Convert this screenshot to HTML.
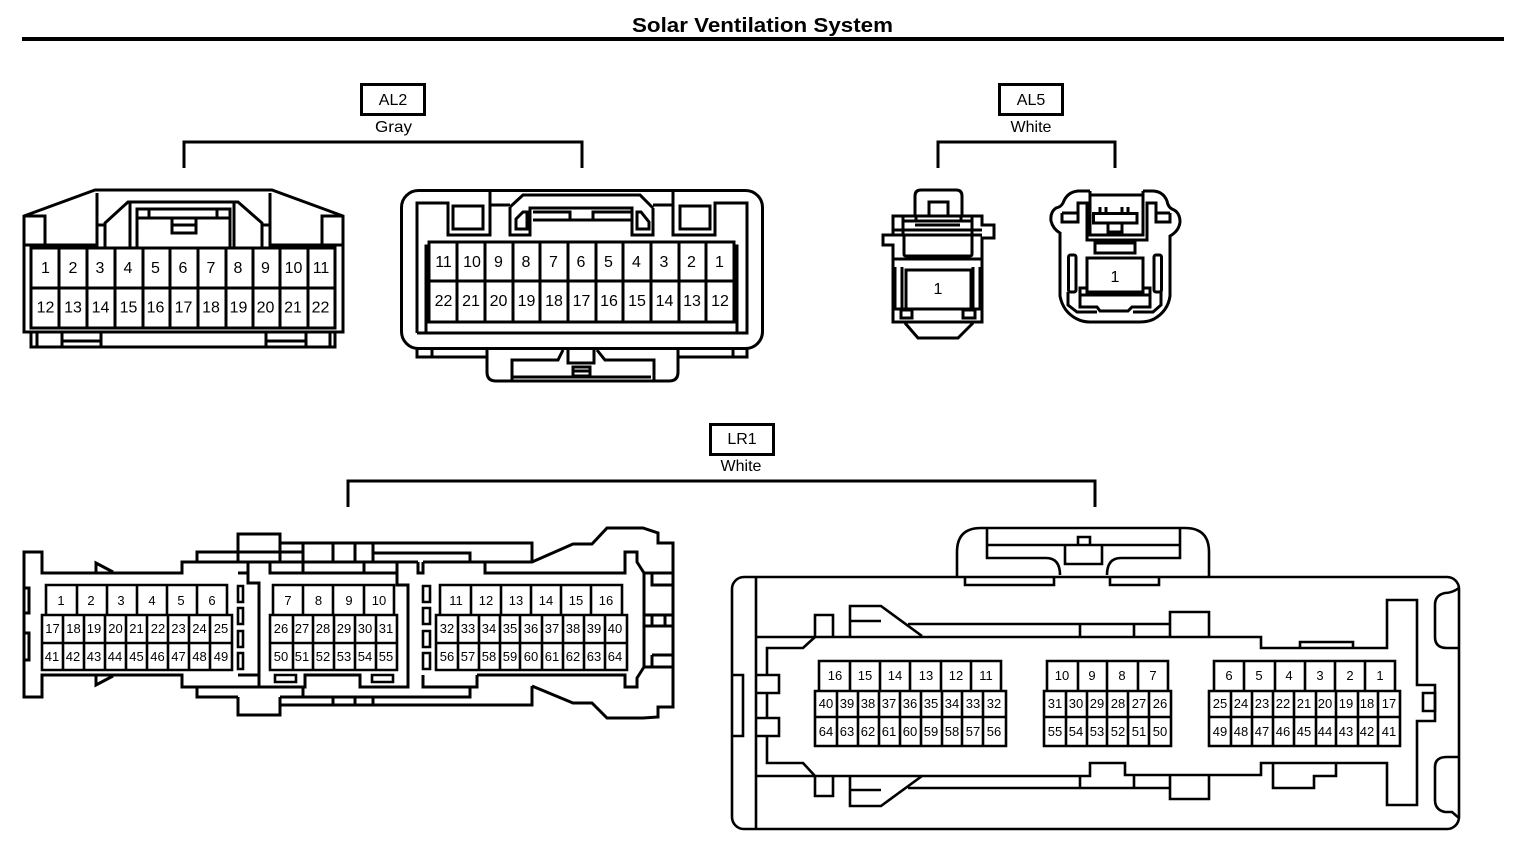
<!DOCTYPE html>
<html lang="en">
<head>
<meta charset="utf-8">
<title>Solar Ventilation System</title>
<style>
html,body{margin:0;padding:0;background:#fff;width:1536px;height:860px;overflow:hidden}
svg{display:block}
path,rect{fill:none;stroke:#000;stroke-width:3;stroke-linejoin:miter}
.t{stroke-width:2.6}
.f{fill:#000;stroke:none}
text{font-family:"Liberation Sans",Arial,sans-serif;fill:#000;text-anchor:middle}
.a text{font-size:16px}
.b text{font-size:13px}
.l{font-size:16px}
</style>
</head>
<body>
<svg width="1536" height="860" viewBox="0 0 1536 860" xmlns="http://www.w3.org/2000/svg">
<text x="762.5" y="32" font-size="20.5" font-weight="bold" textLength="261" lengthAdjust="spacingAndGlyphs">Solar Ventilation System</text>
<rect class="f" x="22" y="37" width="1482" height="4"/>

<!-- Labels and brackets -->
<rect x="361.500" y="84.500" width="63" height="30"/>
<text class="l" x="393" y="105">AL2</text>
<text class="l" x="393.500" y="132" textLength="37" lengthAdjust="spacingAndGlyphs">Gray</text>
<path d="M184 168V142H582V168"/>
<rect x="999.500" y="84.500" width="63" height="30"/>
<text class="l" x="1031" y="105">AL5</text>
<text class="l" x="1031" y="132">White</text>
<path d="M938 168V142H1115V168"/>
<rect x="710.500" y="424.500" width="63" height="30"/>
<text class="l" x="742" y="444">LR1</text>
<text class="l" x="741" y="471">White</text>
<path d="M348 507V481H1095V507"/>

<!-- AL2 left -->
<path d="M24 332V216L95 190H272L343 216V332Z"/>
<path d="M31 248H335V328H31ZM31 288H335M59 248V328M87 248V328M115 248V328M143 248V328M170 248V328M198 248V328M226 248V328M253 248V328M280 248V328M308 248V328"/>
<path d="M24 216H45V245M24 245H97M97 193V248M97 225H105M105 248V223L128 202H238L262 223V248M262 225H270M270 193V248M270 245H343M322 245V216H343"/>
<path d="M130 202V248M234 202V248M137 248V209H230V248M137 218H230M149 209V218M217 209V218M172 218V233H196V218M172 225H196"/>
<path d="M31 332V347H335V332M37 332V347M330 332V347M62 332V347M101 332V347M62 341H101M266 332V347M306 332V347M266 341H306"/>

<!-- AL2 right -->
<rect x="401.500" y="190.500" width="361" height="158" rx="17"/>
<path d="M417 333V203H448V235H490V190M490 205H510M510 207L523 195H640L653 208M510 207V235H530V208H632V235H653V208M653 205H673M673 190V235H715V203H747V333H417"/>
<rect x="453" y="206" width="30" height="23"/>
<rect x="680" y="206" width="30" height="23"/>
<path d="M516 229V219L523 212H527V229ZM637 229V212H641L649 222V229ZM533 212H570V220H533M632 212H593V220H632M570 220H593"/>
<path d="M429 242H734V322H429ZM429 281H734M457 242V322M485 242V322M513 242V322M540 242V322M568 242V322M596 242V322M623 242V322M651 242V322M679 242V322M706 242V322"/>
<path d="M426 333V246H429M737 333V246H734"/>
<path d="M417 348V357H487M432 348V357M733 348V357M747 348V357H678"/>
<path d="M487 348V372Q487 381 496 381H669Q678 381 678 372V348"/>
<path d="M512 380V360H558L563 350M654 380V360H605L597 350M512 377H651M568 350V363H594V350M573 367H590V376H573ZM573 371H590"/>

<g class="a">
<text x="45.500" y="273">1</text><text x="73" y="273">2</text><text x="100" y="273">3</text><text x="128" y="273">4</text><text x="155.500" y="273">5</text><text x="183" y="273">6</text><text x="211" y="273">7</text><text x="238" y="273">8</text><text x="265.500" y="273">9</text><text x="293.500" y="273">10</text><text x="321" y="273">11</text>
<text x="45.500" y="312.500">12</text><text x="73" y="312.500">13</text><text x="100.500" y="312.500">14</text><text x="128.500" y="312.500">15</text><text x="155.500" y="312.500">16</text><text x="183.500" y="312.500">17</text><text x="211" y="312.500">18</text><text x="238.500" y="312.500">19</text><text x="265.500" y="312.500">20</text><text x="293" y="312.500">21</text><text x="320.500" y="312.500">22</text>
<text x="443.500" y="267">11</text><text x="472" y="267">10</text><text x="498.500" y="267">9</text><text x="526" y="267">8</text><text x="553.500" y="267">7</text><text x="581" y="267">6</text><text x="608.500" y="267">5</text><text x="636.500" y="267">4</text><text x="664" y="267">3</text><text x="691.500" y="267">2</text><text x="719.500" y="267">1</text>
<text x="443.500" y="306">22</text><text x="471" y="306">21</text><text x="498.500" y="306">20</text><text x="526.500" y="306">19</text><text x="554" y="306">18</text><text x="581.500" y="306">17</text><text x="609" y="306">16</text><text x="637" y="306">15</text><text x="664.500" y="306">14</text><text x="692" y="306">13</text><text x="720" y="306">12</text>
<text x="938" y="294">1</text>
<text x="1115" y="282">1</text>
</g>

<!-- AL5 left -->
<path d="M915 216V196Q915 190 921 190H956Q962 190 962 196V216"/>
<path d="M929 216V202H948V216"/>
<path d="M893 235V216H982V225H994V238H982V322H893V245H883V235Z"/>
<path d="M903 216V235M972 216V235M916 216V222M961 216V222M903 221H972M915 225H960M893 230H982M893 235H982M904 235V254Q904 256 906 256H970Q972 256 972 254V235M893 259H982"/>
<path d="M895 267V309M902 267V309M973 267V309M980 267V309M906 309V270H971V309M893 309H982"/>
<path d="M901 310H912V318H901ZM963 310H975V318H963Z" stroke-width="2.500"/>
<path d="M905 323L918 338H958L973 323"/>

<!-- AL5 right -->
<path d="M1090 191H1078Q1067 192 1063 203Q1061 207 1056 208Q1050 212 1051 221Q1053 229 1060 233V296Q1063 312 1077 319Q1083 322 1090 322H1140Q1148 322 1154 319Q1168 311 1170 296V236Q1179 231 1180 222Q1180 212 1172 209Q1168 207 1167 201Q1163 191 1152 191H1143"/>
<path d="M1062 213V222H1078V203H1087V240H1147V203H1156V222H1170V213M1062 213H1078M1156 213H1170"/>
<path d="M1090 191V235H1143V191M1090 195H1143"/>
<rect x="1093.500" y="213.500" width="43.500" height="9.500"/>
<path d="M1100 207V213M1106 207V213M1122 207V213M1128 207V213M1108 223V235H1122V223M1108 232H1122"/>
<rect x="1095" y="243" width="40" height="10"/>
<rect x="1087" y="258" width="56" height="34"/>
<rect x="1068.500" y="255" width="7.500" height="37" rx="2"/>
<rect x="1154" y="255" width="7.500" height="37" rx="2"/>
<path d="M1087 288H1080V307H1097L1100 311H1128L1132 307H1150V288H1143M1080 295H1150M1068 292V305L1077 312H1097M1161 292V305L1153 312H1133"/>

<!-- LR1 left -->
<path d="M42 573V552H24V697H42V675H182V687H259V583H248V562H182V573Z" stroke-width="2.700"/>
<path d="M182 562H418M197 562V552H303M197 687V697H238M238 562V534H280V562M238 573H248M238 675H259M238 697V715H280V697" stroke-width="2.700"/>
<path d="M280 543H532V562M280 552H303M373 553H470V562M303 543V573M333 543V562M355 543V562M373 543V562M270 562V573H397M364 562V573M397 562V585H408V687H360V675H305V687H259" stroke-width="2.700"/>
<path d="M280 697H470V687M303 687V697M333 697V705M355 697V705M373 697V705M280 705H532V686" stroke-width="2.700"/>
<path d="M423 562H532L573 544H592L607 528H643L658 533V543H673V707H658V717L643 718H607L592 703H573L532 686" stroke-width="2.700"/>
<path d="M418 562V573H423V562M423 675V687H477V675M485 562V573H625V552H637V562L644 573V667L637 678V687H625V675H477" stroke-width="2.700"/>
<path d="M644 573H673M652 573V585H673M645 615H673M645 626H673M652 615V626M665 615V626M652 655H673M652 655V667M645 667H673" stroke-width="2.700"/>
<path d="M24 588H29V613H24M24 633H29V660H24" stroke-width="2.700"/>
<path d="M96 572V563L113 572M96 676V685L113 676" stroke-width="2.700"/>
<path class="t" d="M238 586H243V602H238ZM238 608H243V624H238ZM238 631H243V647H238ZM238 653H243V669H238ZM423 586H430V602H423ZM423 608H430V624H423ZM423 631H430V647H423ZM423 653H430V669H423ZM372 675H393V682H372ZM275 675H296V682H275Z"/>
<path class="t" d="M46 614V585H227V614M77 585V614M107 585V614M137 585V614M167 585V614M197 585V614M42 615H232V670H42ZM42 643H232M63 615V670M84 615V670M105 615V670M126 615V670M147 615V670M168 615V670M189 615V670M210 615V670"/>
<path class="t" d="M273 614V585H394V614M303 585V614M333 585V614M364 585V614M270 615H397V670H270ZM270 643H397M293 615V670M313 615V670M334 615V670M355 615V670M376 615V670"/>
<path class="t" d="M440 614V585H622V614M471 585V614M501 585V614M531 585V614M561 585V614M591 585V614M436 615H627V670H436ZM436 643H627M458 615V670M479 615V670M500 615V670M520 615V670M542 615V670M563 615V670M584 615V670M605 615V670"/>

<!-- LR1 right -->
<rect class="t" x="732" y="577" width="727" height="252" rx="12"/>
<path class="t" d="M756 577V829M732 675H743V736H732"/>
<path class="t" d="M957 576V552Q957 528 981 528H1185Q1209 528 1209 552V576"/>
<path class="t" d="M987 528V558H1046Q1060 558 1060 575M1180 528V558H1121Q1107 558 1107 575M987 545H1180M1065 546V564H1102V546M1078 545V537H1090V545"/>
<path class="t" d="M965 578V585H1054V578M1110 578V585H1159V578"/>
<path class="t" d="M756 637H1261V648H1387V600H1417V685H1435V721H1417V805H1387V763H1261V775H1125V763H1090V776H756"/>
<path class="t" d="M1423 693H1435V711H1423Z"/>
<path class="t" d="M1300 648V642H1353V648"/>
<path class="t" d="M815 636V615H833V636M850 636V606H881L922 636M850 621H881M908 624H1170M1080 624V637M1134 624V637M1170 637V612H1209V637"/>
<path class="t" d="M815 776V796H833V776M850 776V806H881L922 776M850 790H881M908 788H1170M1080 776V788M1134 776V788M1170 776V799H1209V776"/>
<path class="t" d="M1273 763V788H1314V776H1336V763"/>
<path class="t" d="M815 637L803 648H767V675M756 675H779V693H756M767 693V718M756 718H779V736H756M767 736V763H803L815 776"/>
<path class="t" d="M1459 588Q1452 593 1445 593Q1435 595 1435 605V637Q1435 648 1447 648H1459M1459 757H1447Q1435 757 1435 767V800Q1435 810 1445 812H1452L1459 818"/>
<path class="t" d="M819 690V661H1001V690M850 661V690M880 661V690M910 661V690M941 661V690M971 661V690M815 691H1006V746H815ZM815 717H1006M837 691V746M858 691V746M879 691V746M900 691V746M921 691V746M942 691V746M962 691V746M983 691V746"/>
<path class="t" d="M1047 690V661H1168V690M1078 661V690M1107 661V690M1138 661V690M1044 691H1171V746H1044ZM1044 717H1171M1066 691V746M1087 691V746M1107 691V746M1128 691V746M1149 691V746"/>
<path class="t" d="M1214 690V661H1395V690M1244 661V690M1275 661V690M1305 661V690M1335 661V690M1365 661V690M1209 691H1400V746H1209ZM1209 717H1400M1231 691V746M1252 691V746M1273 691V746M1294 691V746M1316 691V746M1336 691V746M1358 691V746M1378 691V746"/>

<g class="b">
<text x="61" y="605">1</text><text x="91" y="605">2</text><text x="121" y="605">3</text><text x="152" y="605">4</text><text x="181" y="605">5</text><text x="212" y="605">6</text>
<text x="52.500" y="633">17</text><text x="73.500" y="633">18</text><text x="94" y="633">19</text><text x="115.500" y="633">20</text><text x="136.500" y="633">21</text><text x="158" y="633">22</text><text x="178.500" y="633">23</text><text x="199.500" y="633">24</text><text x="221" y="633">25</text>
<text x="52" y="661">41</text><text x="73" y="661">42</text><text x="94" y="661">43</text><text x="115" y="661">44</text><text x="136.500" y="661">45</text><text x="157.500" y="661">46</text><text x="178.500" y="661">47</text><text x="199.500" y="661">48</text><text x="221" y="661">49</text>
<text x="288" y="605">7</text><text x="318.500" y="605">8</text><text x="349" y="605">9</text><text x="379" y="605">10</text>
<text x="281" y="633">26</text><text x="302" y="633">27</text><text x="323" y="633">28</text><text x="344" y="633">29</text><text x="365" y="633">30</text><text x="386" y="633">31</text>
<text x="281" y="661">50</text><text x="302" y="661">51</text><text x="323" y="661">52</text><text x="344" y="661">53</text><text x="365" y="661">54</text><text x="386" y="661">55</text>
<text x="456" y="605">11</text><text x="486" y="605">12</text><text x="516" y="605">13</text><text x="546" y="605">14</text><text x="576" y="605">15</text><text x="606" y="605">16</text>
<text x="447" y="633">32</text><text x="468" y="633">33</text><text x="489" y="633">34</text><text x="510" y="633">35</text><text x="531" y="633">36</text><text x="552" y="633">37</text><text x="573" y="633">38</text><text x="594" y="633">39</text><text x="615" y="633">40</text>
<text x="447" y="661">56</text><text x="468" y="661">57</text><text x="489" y="661">58</text><text x="510" y="661">59</text><text x="531" y="661">60</text><text x="552" y="661">61</text><text x="573" y="661">62</text><text x="594" y="661">63</text><text x="615" y="661">64</text>

<text x="835" y="680">16</text><text x="865" y="680">15</text><text x="895" y="680">14</text><text x="926" y="680">13</text><text x="956" y="680">12</text><text x="986" y="680">11</text>
<text x="826" y="708">40</text><text x="847" y="708">39</text><text x="868" y="708">38</text><text x="889" y="708">37</text><text x="910" y="708">36</text><text x="931" y="708">35</text><text x="952" y="708">34</text><text x="973" y="708">33</text><text x="994" y="708">32</text>
<text x="826" y="736">64</text><text x="847" y="736">63</text><text x="868" y="736">62</text><text x="889" y="736">61</text><text x="910" y="736">60</text><text x="931" y="736">59</text><text x="952" y="736">58</text><text x="973" y="736">57</text><text x="994" y="736">56</text>
<text x="1062" y="680">10</text><text x="1092" y="680">9</text><text x="1122" y="680">8</text><text x="1153" y="680">7</text>
<text x="1055" y="708">31</text><text x="1076" y="708">30</text><text x="1097" y="708">29</text><text x="1118" y="708">28</text><text x="1139" y="708">27</text><text x="1160" y="708">26</text>
<text x="1055" y="736">55</text><text x="1076" y="736">54</text><text x="1097" y="736">53</text><text x="1118" y="736">52</text><text x="1139" y="736">51</text><text x="1160" y="736">50</text>
<text x="1229" y="680">6</text><text x="1259" y="680">5</text><text x="1289" y="680">4</text><text x="1320" y="680">3</text><text x="1350" y="680">2</text><text x="1380" y="680">1</text>
<text x="1220" y="708">25</text><text x="1241" y="708">24</text><text x="1262" y="708">23</text><text x="1283" y="708">22</text><text x="1304" y="708">21</text><text x="1325" y="708">20</text><text x="1346" y="708">19</text><text x="1367" y="708">18</text><text x="1389" y="708">17</text>
<text x="1220" y="736">49</text><text x="1241" y="736">48</text><text x="1262" y="736">47</text><text x="1283" y="736">46</text><text x="1304" y="736">45</text><text x="1325" y="736">44</text><text x="1346" y="736">43</text><text x="1367" y="736">42</text><text x="1389" y="736">41</text>
</g>
</svg>
</body>
</html>
